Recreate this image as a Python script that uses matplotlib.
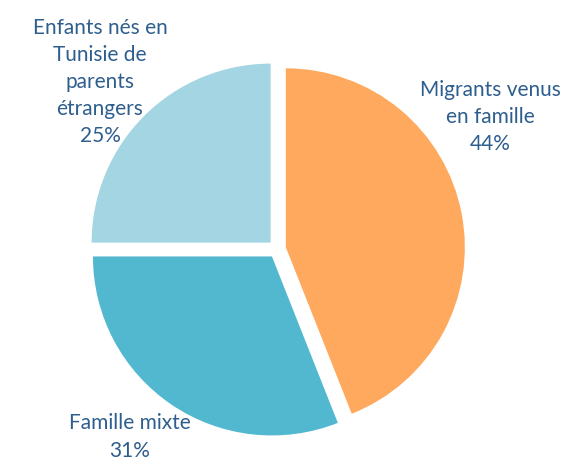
import matplotlib.pyplot as plt

# parts du graphique
labels = ["Migrants venus\nen famille", "Famille mixte", "Enfants nés en\nTunisie de\nparents\nétrangers"]
values = [44, 31, 25]
colors = ["#FFA95E", "#52B8CF", "#A3D5E3"]

fig = plt.figure(figsize=(5.66, 4.61), dpi=100)
ax = fig.add_axes([0, 0, 1, 1])

# explode en unites de donnees (pixels ici)
ax.pie(values, colors=colors, startangle=90, counterclock=False,
       center=(277, 212), radius=179, explode=[9] * 3,
       wedgeprops=dict(linewidth=0), frame=True)
ax.set_xlim(0, 566)
ax.set_ylim(0, 461)
ax.axis("off")

txt = dict(color="#2E5E8E", fontsize=15, family="Lato", ha="center", va="center", linespacing=1.45)
pos = [(490, 461 - 117), (130, 461 - 437), (100, 461 - 82)]
for (x, y), lab, v in zip(pos, labels, values):
    ax.text(x, y, "{}\n{}%".format(lab, v), **txt)

fig.savefig("out.png", dpi=100)
